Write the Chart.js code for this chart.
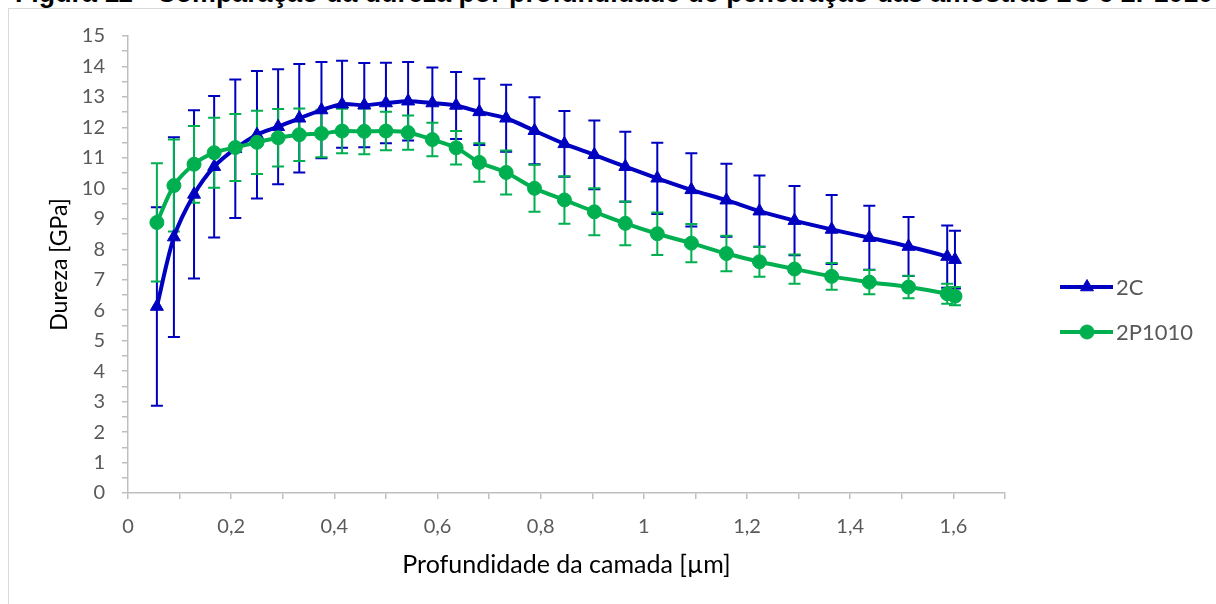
<!DOCTYPE html>
<html lang="pt">
<head>
<meta charset="utf-8">
<title>Dureza por profundidade de penetração</title>
<script src="https://cdn.jsdelivr.net/npm/chart.js@4.4.1/dist/chart.umd.min.js"></script>
<style>
  html, body { margin: 0; padding: 0; background: #fff; overflow: hidden; }
  #pagina { position: relative; width: 1216px; height: 604px; overflow: hidden; }
  #titulo {
    position: absolute; left: 15px; top: -20px; white-space: nowrap;
    font: bold 21px "Liberation Sans", Arial, sans-serif; line-height: 1; color: #000;
  }
  #moldura {
    position: absolute; left: 8px; top: 8px; right: -10px; bottom: -10px;
    border-left: 1.5px solid #d9d9d9; border-top: 1.5px solid #d9d9d9;
  }
  #grafico { position: absolute; left: 0; top: 0; }
</style>
</head>
<body>
<div id="pagina">
  <div id="titulo">Figura 11 - Comparação da dureza por profundidade de penetração das amostras 2C e 2P1010</div>
  <div id="moldura"></div>
  <canvas id="grafico" width="1216" height="604"></canvas>
</div>
<script>
// profundidade de penetração [µm], comum às duas amostras
const profundidade = [0.056, 0.089, 0.128, 0.167, 0.208, 0.250, 0.291, 0.332, 0.375, 0.415,
  0.458, 0.500, 0.543, 0.590, 0.636, 0.681, 0.733, 0.788, 0.846, 0.904,
  0.964, 1.026, 1.092, 1.160, 1.224, 1.292, 1.364, 1.437, 1.513, 1.588, 1.603];

// amostra 2C: dureza média e desvio padrão [GPa]
const dureza2C = [6.12, 8.40, 9.80, 10.71, 11.30, 11.76, 12.02, 12.30, 12.57, 12.76,
  12.73, 12.80, 12.86, 12.80, 12.72, 12.51, 12.30, 11.89, 11.46, 11.10,
  10.71, 10.33, 9.95, 9.61, 9.25, 8.94, 8.65, 8.38, 8.09, 7.76, 7.66];
const desvio2C = [3.26, 3.28, 2.76, 2.32, 2.27, 2.09, 1.89, 1.78, 1.58, 1.43,
  1.38, 1.32, 1.29, 1.17, 1.10, 1.09, 1.10, 1.10, 1.08, 1.13,
  1.15, 1.17, 1.20, 1.20, 1.17, 1.14, 1.13, 1.05, 0.97, 1.02, 0.95];

// amostra 2P1010
const dureza2P1010 = [8.88, 10.09, 10.79, 11.17, 11.34, 11.51, 11.66, 11.76, 11.80, 11.88,
  11.87, 11.88, 11.83, 11.60, 11.33, 10.85, 10.52, 10.00, 9.62, 9.23,
  8.85, 8.51, 8.20, 7.86, 7.59, 7.35, 7.11, 6.92, 6.76, 6.54, 6.46];
const desvio2P1010 = [1.94, 1.51, 1.26, 1.15, 1.10, 1.04, 0.94, 0.86, 0.78, 0.73,
  0.75, 0.63, 0.56, 0.55, 0.55, 0.63, 0.72, 0.77, 0.78, 0.77,
  0.72, 0.70, 0.63, 0.58, 0.49, 0.48, 0.44, 0.40, 0.37, 0.33, 0.30];

const limitesX = [0, 1.7];
const limitesY = [0, 15];

const AZUL = '#0000C0';
const VERDE = '#00B050';
const CINZA_EIXO = '#bfbfbf';
const CINZA_TEXTO = '#595959';
const FONTE = 'Lato, "Open Sans", sans-serif';

// ajusta o título à largura da página
const titulo = document.getElementById('titulo');
titulo.style.fontSize = (21 * 1198 / titulo.offsetWidth) + 'px';

function pontos(valores) {
  return profundidade.map((x, i) => ({ x: x, y: valores[i] }));
}

function formatar(v) {
  return String(Math.round(v * 10) / 10).replace('.', ',');
}

// barras de erro verticais com traço nas pontas
const barrasDeErro = {
  id: 'barrasDeErro',
  beforeDatasetsDraw(chart) {
    const ctx = chart.ctx;
    const sx = chart.scales.x, sy = chart.scales.y;
    ctx.save();
    chart.data.datasets.forEach(ds => {
      ctx.strokeStyle = ds.borderColor;
      ctx.lineWidth = 2;
      ds.data.forEach((p, j) => {
        const px = sx.getPixelForValue(p.x);
        const topo = sy.getPixelForValue(p.y + ds.erros[j]);
        const base = sy.getPixelForValue(p.y - ds.erros[j]);
        ctx.beginPath();
        ctx.moveTo(px, topo); ctx.lineTo(px, base);
        ctx.moveTo(px - 6, topo); ctx.lineTo(px + 6, topo);
        ctx.moveTo(px - 6, base); ctx.lineTo(px + 6, base);
        ctx.stroke();
      });
    });
    ctx.restore();
  }
};

// legenda à direita: linha com marcador
const legenda = {
  id: 'legenda',
  afterDraw(chart) {
    const ctx = chart.ctx;
    const x0 = chart.chartArea.right + 55;
    ctx.save();
    chart.data.datasets.forEach((ds, i) => {
      const y = 287 + i * 45;
      ctx.strokeStyle = ds.borderColor;
      ctx.fillStyle = ds.backgroundColor;
      ctx.lineWidth = 4;
      ctx.beginPath();
      ctx.moveTo(x0, y); ctx.lineTo(x0 + 53, y);
      ctx.stroke();
      ctx.lineWidth = 1;
      Chart.helpers.drawPoint(ctx, { pointStyle: ds.pointStyle, radius: ds.pointRadius, rotation: 0, borderWidth: 1 }, x0 + 27, y);
      ctx.fillStyle = CINZA_TEXTO;
      ctx.font = '22px ' + FONTE;
      ctx.textBaseline = 'middle';
      ctx.textAlign = 'left';
      ctx.fillText(ds.label, x0 + 56, y + 1);
    });
    ctx.restore();
  }
};

new Chart(document.getElementById('grafico'), {
  type: 'line',
  data: {
    datasets: [
      {
        label: '2C',
        data: pontos(dureza2C),
        erros: desvio2C,
        borderColor: AZUL,
        backgroundColor: AZUL,
        borderWidth: 4,
        pointStyle: 'triangle',
        pointRadius: 7.5,
        pointBorderWidth: 1,
        tension: 0.3,
        order: 1
      },
      {
        label: '2P1010',
        data: pontos(dureza2P1010),
        erros: desvio2P1010,
        borderColor: VERDE,
        backgroundColor: VERDE,
        borderWidth: 4,
        pointStyle: 'circle',
        pointRadius: 7,
        pointBorderWidth: 1,
        tension: 0.3,
        order: 0
      }
    ]
  },
  options: {
    responsive: false,
    animation: false,
    layout: { padding: { left: 0, top: 36, right: 211, bottom: 0 } },
    plugins: {
      legend: { display: false },
      tooltip: { enabled: false }
    },
    scales: {
      x: {
        type: 'linear',
        min: limitesX[0],
        max: limitesX[1],
        afterFit: s => { s.height = 111; },
        ticks: {
          stepSize: 0.1,
          autoSkip: false,
          maxRotation: 0,
          padding: 16,
          color: CINZA_TEXTO,
          font: { family: FONTE, size: 20 },
          callback: v => (Math.round(v * 10) % 2 === 0 ? formatar(v) : '')
        },
        grid: { drawOnChartArea: false, drawTicks: true, tickLength: 6, color: CINZA_EIXO, lineWidth: 1.5 },
        border: { color: CINZA_EIXO, width: 1.5 },
        title: {
          display: true,
          text: 'Profundidade da camada [µm]',
          color: '#000',
          font: { family: FONTE, size: 25 },
          padding: { top: 0, bottom: 24 }
        }
      },
      y: {
        min: limitesY[0],
        max: limitesY[1],
        afterFit: s => { s.width = 128; },
        ticks: {
          stepSize: 0.5,
          autoSkip: false,
          padding: 17,
          color: CINZA_TEXTO,
          font: { family: FONTE, size: 20 },
          callback: v => (Number.isInteger(v) ? String(v) : '')
        },
        grid: { drawOnChartArea: false, drawTicks: true, tickLength: 6, color: CINZA_EIXO, lineWidth: 1.5 },
        border: { color: CINZA_EIXO, width: 1.5 },
        title: {
          display: true,
          text: 'Dureza [GPa]',
          color: '#000',
          font: { family: FONTE, size: 23 },
          padding: { top: 46, bottom: 0 }
        }
      }
    }
  },
  plugins: [barrasDeErro, legenda]
});
</script>
</body>
</html>
